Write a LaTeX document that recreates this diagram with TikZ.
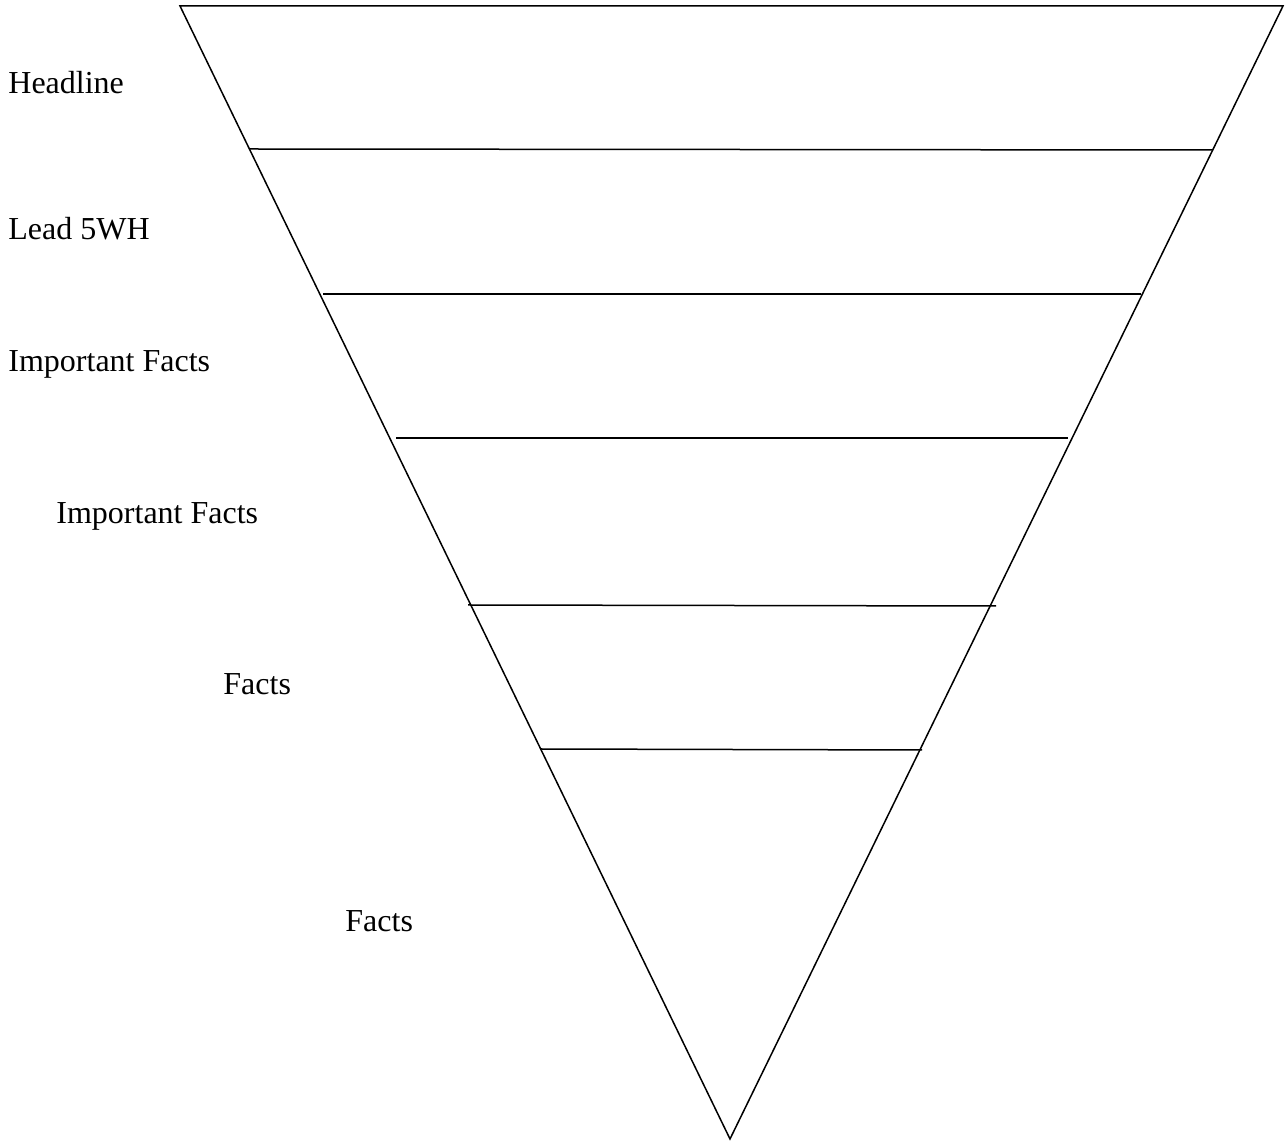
\documentclass[tikz,border=0pt]{standalone}
\usepackage{fontspec}
\setmainfont{Liberation Serif}
\usetikzlibrary{positioning}

\begin{document}
\begin{tikzpicture}[
        x=0.5pt, y=-0.5pt,
        label/.style={anchor=base west, inner sep=0pt, font=\fontsize{16}{19}\selectfont},
        edge/.style={line width=0.75pt}
      ]
    \useasboundingbox (0,0) rectangle (1286,1143);

    \coordinate (tl) at (180,6);
    \coordinate (tr) at (1283,6);
    \coordinate (tip) at (730,1139);
    \draw[edge, line join=miter] (tl) -- (tr) -- (tip) -- cycle;

    \coordinate (a1) at (250,149);  \coordinate (b1) at (1213,150);
    \coordinate (a2) at (323,294);  \coordinate (b2) at (1141,294);
    \coordinate (a3) at (396,438);  \coordinate (b3) at (1068,438);
    \coordinate (a4) at (468,605);  \coordinate (b4) at (996,606);
    \coordinate (a5) at (541,749);  \coordinate (b5) at (922,750);
    \foreach \i in {1,...,5}
      \draw[edge] (a\i) -- (b\i);

    \node[label] (headline) at (8,94) {Headline};
    \node[label] (lead) at (8,240) {Lead 5WH};
    \node[label] (important1) at (8,372) {Important Facts};
    \node[label] (important2) at (56,524) {Important Facts};
    \node[label] (facts1) at (223,695) {Facts};
    \node[label] (facts2) at (345,932) {Facts};

\end{tikzpicture}
\end{document}
